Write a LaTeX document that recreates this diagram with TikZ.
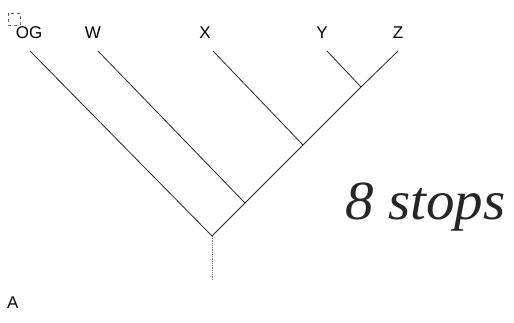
\documentclass[tikz,border=0pt]{standalone}
\usepackage{fontspec}
\setmainfont{Liberation Sans}
\newfontfamily\handfont{Liberation Serif}
\usepackage{tikz}
\usetikzlibrary{positioning,calc}

\begin{document}
\begin{tikzpicture}[
    x=1pt, y=-1pt,
    branch/.style={draw=black!85, line width=0.8pt},
    stem/.style={draw=black!50, line width=0.8pt, densely dotted},
    taxon/.style={font=\fontsize{17}{17}\selectfont, inner sep=0pt, anchor=base},
    note/.style={font=\fontsize{38}{38}\handfont\itshape, text=black!85, inner sep=0pt, anchor=base west, xscale=1.5, yscale=1.45},
    marker/.style={draw=black!60, dashed, line width=0.4pt, minimum size=12pt, inner sep=0pt}
]
\useasboundingbox (0,0) rectangle (514,322);

% Tips and inner nodes
\coordinate (root) at (212,236);
\coordinate (base) at (212,280);
\coordinate (tOG) at (30,51);
\coordinate (tW) at (98,51);
\coordinate (tX) at (213,51);
\coordinate (tY) at (327,51);
\coordinate (tZ) at (398,51);
\coordinate (nW) at (245,203);
\coordinate (nX) at (303,145);
\coordinate (nY) at (361,87);

% Taxon labels
\node[taxon] (og) at (29,38) {OG};
\node[taxon] (w) at (93,38) {W};
\node[taxon] (x) at (205,38) {X};
\node[taxon] (y) at (322,38) {Y};
\node[taxon] (z) at (398,38) {Z};
\node[marker] (box) at (14,19) {};

% Branches
\draw[stem] (root) -- (base);
\draw[branch] (root) -- (tOG);
\draw[branch] (root) -- (nW) -- (nX) -- (nY) -- (tZ);
\draw[branch] (nW) -- (tW);
\draw[branch] (nX) -- (tX);
\draw[branch] (nY) -- (tY);

% Notes
\node[note] (steps) at (345,219) {8 stops};
\node[taxon, anchor=base west] (panel) at (7,308) {A};

\end{tikzpicture}
\end{document}
